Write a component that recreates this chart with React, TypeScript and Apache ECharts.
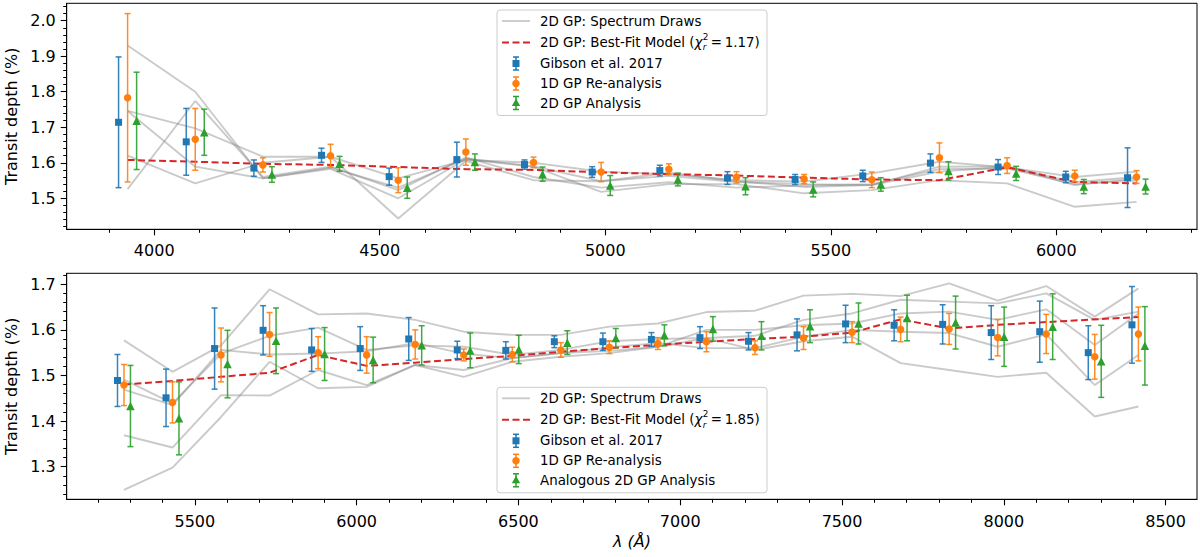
import React, { useEffect, useRef } from "react";
import * as echarts from "echarts";

// ---------------- data: top panel ----------------
const TOP_X = [3941, 4091, 4241, 4391, 4541, 4691, 4841, 4991, 5141, 5291, 5441, 5591, 5741, 5891, 6041, 6178];
const TOP_GIBSON = [1.714, 1.659, 1.585, 1.621, 1.561, 1.609, 1.595, 1.574, 1.578, 1.557, 1.553, 1.563, 1.599, 1.588, 1.560, 1.558];
const TOP_GIBSON_ERR = [0.184, 0.094, 0.023, 0.020, 0.024, 0.049, 0.013, 0.015, 0.015, 0.018, 0.014, 0.016, 0.026, 0.021, 0.016, 0.084];
const TOP_1D = [1.783, 1.666, 1.594, 1.620, 1.551, 1.630, 1.601, 1.574, 1.582, 1.559, 1.554, 1.552, 1.614, 1.592, 1.563, 1.560];
const TOP_1D_ERR = [0.237, 0.087, 0.020, 0.032, 0.035, 0.037, 0.015, 0.027, 0.015, 0.016, 0.013, 0.022, 0.042, 0.022, 0.016, 0.018];
const TOP_2D = [1.718, 1.686, 1.567, 1.597, 1.530, 1.602, 1.568, 1.536, 1.553, 1.534, 1.525, 1.539, 1.577, 1.570, 1.533, 1.533];
const TOP_2D_ERR = [0.137, 0.065, 0.022, 0.021, 0.030, 0.023, 0.020, 0.028, 0.018, 0.024, 0.021, 0.019, 0.026, 0.020, 0.020, 0.021];
const TOP_MODEL = [1.608, 1.603, 1.597, 1.594, 1.588, 1.582, 1.580, 1.573, 1.568, 1.564, 1.558, 1.553, 1.551, 1.587, 1.546, 1.542];
const TOP_DRAW_1 = [1.930, 1.800, 1.556, 1.586, 1.530, 1.612, 1.590, 1.548, 1.572, 1.548, 1.532, 1.537, 1.575, 1.589, 1.545, 1.560];
const TOP_DRAW_2 = [1.746, 1.697, 1.617, 1.617, 1.556, 1.608, 1.600, 1.575, 1.568, 1.551, 1.547, 1.570, 1.603, 1.587, 1.560, 1.575];
const TOP_DRAW_3 = [1.746, 1.589, 1.556, 1.583, 1.500, 1.610, 1.589, 1.518, 1.540, 1.540, 1.514, 1.523, 1.551, 1.542, 1.476, 1.490];
const TOP_DRAW_4 = [1.620, 1.542, 1.600, 1.617, 1.443, 1.605, 1.551, 1.548, 1.563, 1.546, 1.540, 1.537, 1.589, 1.590, 1.537, 1.556];
const TOP_DRAW_5 = [1.526, 1.774, 1.560, 1.589, 1.523, 1.615, 1.560, 1.530, 1.545, 1.530, 1.536, 1.540, 1.582, 1.584, 1.540, 1.550];

// ---------------- data: bottom panel ----------------
const BOT_X = [5281, 5431, 5581, 5731, 5881, 6031, 6181, 6331, 6481, 6631, 6781, 6931, 7081, 7231, 7381, 7531, 7681, 7831, 7981, 8131, 8281, 8416];
const BOT_GIBSON = [1.489, 1.451, 1.559, 1.599, 1.556, 1.559, 1.580, 1.556, 1.555, 1.574, 1.574, 1.579, 1.583, 1.575, 1.589, 1.613, 1.610, 1.612, 1.594, 1.596, 1.550, 1.611];
const BOT_GIBSON_ERR = [0.057, 0.063, 0.089, 0.054, 0.047, 0.048, 0.047, 0.019, 0.019, 0.013, 0.019, 0.015, 0.024, 0.019, 0.035, 0.041, 0.034, 0.043, 0.059, 0.067, 0.059, 0.084];
const BOT_1D = [1.479, 1.441, 1.545, 1.590, 1.550, 1.545, 1.568, 1.545, 1.546, 1.556, 1.562, 1.570, 1.574, 1.561, 1.582, 1.595, 1.601, 1.602, 1.583, 1.591, 1.541, 1.591];
const BOT_1D_ERR = [0.045, 0.045, 0.059, 0.048, 0.035, 0.040, 0.032, 0.013, 0.016, 0.016, 0.014, 0.013, 0.022, 0.015, 0.025, 0.023, 0.027, 0.034, 0.040, 0.043, 0.049, 0.059];
const BOT_2D = [1.433, 1.406, 1.525, 1.576, 1.547, 1.534, 1.566, 1.555, 1.557, 1.572, 1.582, 1.588, 1.602, 1.587, 1.608, 1.614, 1.626, 1.616, 1.585, 1.607, 1.531, 1.565];
const BOT_2D_ERR = [0.089, 0.080, 0.074, 0.072, 0.058, 0.050, 0.043, 0.038, 0.031, 0.026, 0.021, 0.023, 0.027, 0.031, 0.036, 0.045, 0.050, 0.058, 0.065, 0.072, 0.079, 0.086];
const BOT_MODEL = [1.480, 1.488, 1.497, 1.506, 1.545, 1.521, 1.528, 1.536, 1.543, 1.552, 1.560, 1.567, 1.574, 1.580, 1.585, 1.594, 1.623, 1.603, 1.611, 1.617, 1.623, 1.628];
const BOT_DRAW_1 = [1.577, 1.508, 1.566, 1.689, 1.634, 1.636, 1.622, 1.596, 1.589, 1.589, 1.607, 1.614, 1.639, 1.642, 1.675, 1.679, 1.674, 1.702, 1.664, 1.696, 1.629, 1.691];
const BOT_DRAW_2 = [1.491, 1.439, 1.548, 1.587, 1.605, 1.556, 1.566, 1.563, 1.545, 1.556, 1.575, 1.580, 1.582, 1.587, 1.622, 1.636, 1.666, 1.662, 1.658, 1.680, 1.622, 1.640];
const BOT_DRAW_3 = [1.469, 1.435, 1.556, 1.546, 1.548, 1.553, 1.571, 1.548, 1.538, 1.549, 1.554, 1.563, 1.600, 1.600, 1.610, 1.614, 1.636, 1.640, 1.622, 1.645, 1.567, 1.636];
const BOT_DRAW_4 = [1.369, 1.342, 1.457, 1.456, 1.512, 1.479, 1.523, 1.512, 1.538, 1.549, 1.562, 1.571, 1.560, 1.560, 1.585, 1.600, 1.596, 1.593, 1.563, 1.590, 1.479, 1.545];
const BOT_DRAW_5 = [1.249, 1.298, 1.409, 1.530, 1.472, 1.475, 1.523, 1.497, 1.530, 1.541, 1.549, 1.563, 1.582, 1.556, 1.575, 1.585, 1.527, 1.512, 1.497, 1.506, 1.410, 1.432];

// wavelength offsets of the three analyses around each bin centre (Å)
const GIBSON_OFFSET = -20;
const GP1D_OFFSET = 0;
const GP2D_OFFSET = 20;

// ---------------- axes ----------------
const TOP_X_RANGE = [3806, 6312];
const TOP_Y_RANGE = [1.4127, 2.049];
const BOT_X_RANGE = [5104, 8597];
const BOT_Y_RANGE = [1.2285, 1.724];
const TOP_X_MAJOR = [4000, 4500, 5000, 5500, 6000];
const BOT_X_MAJOR = [5500, 6000, 6500, 7000, 7500, 8000, 8500];
const TOP_Y_MAJOR = [1.5, 1.6, 1.7, 1.8, 1.9, 2.0];
const BOT_Y_MAJOR = [1.3, 1.4, 1.5, 1.6, 1.7];

const TOP_LEGEND = ["2D GP: Spectrum Draws", "2D GP: Best-Fit Model", "Gibson et al. 2017", "1D GP Re-analysis", "2D GP Analysis"];
const BOT_LEGEND = ["2D GP: Spectrum Draws", "2D GP: Best-Fit Model", "Gibson et al. 2017", "1D GP Re-analysis", "Analogous 2D GP Analysis"];
const TOP_CHI = "1.17";
const BOT_CHI = "1.85";

const BLUE = "#1f77b4";
const ORANGE = "#ff7f0e";
const GREEN = "#2ca02c";
const RED = "#d62728";
const GRAY = "rgba(128,128,128,0.42)";
const FONT = "DejaVu Sans";
const LEG_FS = 13.4;
const SCRIPT_FS = 8.8;

function range(a: number, b: number, step: number, dec: number) {
  const out: number[] = [];
  for (let v = a; v <= b + step / 10; v += step) out.push(+v.toFixed(dec));
  return out;
}

const TOP_X_MINOR = range(3900, 6300, 100, 0);
const BOT_X_MINOR = range(5200, 8500, 100, 0);
const TOP_Y_MINOR = range(1.42, 2.04, 0.02, 2);
const BOT_Y_MINOR = range(1.24, 1.72, 0.02, 2);

function measure(text: string, size: number, italic = false) {
  const c = document.createElement("canvas").getContext("2d")!;
  c.font = `${italic ? "italic " : ""}${size}px "${FONT}"`;
  return c.measureText(text).width;
}

export default function App() {
  const ref = useRef<HTMLDivElement>(null);

  useEffect(() => {
    if (!ref.current) return;
    const chart = echarts.init(ref.current, undefined, { renderer: "svg" });

    const xAxisPair = (gridIndex: number, rng: number[], major: number[], minor: number[], labelMargin: number) => [
      {
        type: "value",
        gridIndex,
        position: "bottom",
        min: rng[0],
        max: rng[1],
        axisLine: { show: true, onZero: false, lineStyle: { color: "#000", width: 1 } },
        axisTick: { show: true, length: 6, lineStyle: { color: "#000", width: 1.1 }, customValues: major },
        axisLabel: {
          show: true,
          customValues: major,
          margin: labelMargin,
          fontSize: 16,
          fontFamily: FONT,
          color: "#000",
          formatter: (v: number) => String(v),
        },
        splitLine: { show: false },
      },
      {
        type: "value",
        gridIndex,
        position: "bottom",
        offset: 0,
        min: rng[0],
        max: rng[1],
        axisLine: { show: false, onZero: false },
        axisTick: { show: true, length: 3.5, lineStyle: { color: "#000", width: 1 }, customValues: minor },
        axisLabel: { show: false },
        splitLine: { show: false },
      },
    ];
    const yAxisPair = (gridIndex: number, rng: number[], major: number[], minor: number[]) => [
      {
        type: "value",
        gridIndex,
        position: "left",
        min: rng[0],
        max: rng[1],
        axisLine: { show: true, onZero: false, lineStyle: { color: "#000", width: 1 } },
        axisTick: { show: true, length: 6, lineStyle: { color: "#000", width: 1.1 }, customValues: major },
        axisLabel: {
          show: true,
          customValues: major,
          margin: 11,
          fontSize: 16,
          fontFamily: FONT,
          color: "#000",
          formatter: (v: number) => v.toFixed(1),
        },
        splitLine: { show: false },
      },
      {
        type: "value",
        gridIndex,
        position: "left",
        offset: 0,
        min: rng[0],
        max: rng[1],
        axisLine: { show: false, onZero: false },
        axisTick: { show: true, length: 3.5, lineStyle: { color: "#000", width: 1 }, customValues: minor },
        axisLabel: { show: false },
        splitLine: { show: false },
      },
    ];

    const drawSeries = (xs: number[], ys: number[], xi: number, yi: number) => ({
      type: "line",
      xAxisIndex: xi,
      yAxisIndex: yi,
      data: xs.map((x, i) => [x, ys[i]]),
      symbol: "none",
      silent: true,
      z: 1,
      lineStyle: { color: GRAY, width: 1.9 },
    });
    const modelSeries = (xs: number[], ys: number[], xi: number, yi: number) => ({
      type: "line",
      xAxisIndex: xi,
      yAxisIndex: yi,
      data: xs.map((x, i) => [x, ys[i]]),
      symbol: "none",
      silent: true,
      z: 3,
      lineStyle: { color: RED, width: 2, type: [7, 3.5] },
    });
    const errSeries = (xs: number[], off: number, ys: number[], es: number[], color: string, xi: number, yi: number) => ({
      type: "custom",
      xAxisIndex: xi,
      yAxisIndex: yi,
      silent: true,
      z: 4,
      encode: { x: 0, y: 1 },
      data: xs.map((x, i) => [x + off, ys[i], es[i]]),
      renderItem: (_p: any, api: any) => {
        const x = api.value(0);
        const y = api.value(1);
        const e = api.value(2);
        const t = api.coord([x, y + e]);
        const b = api.coord([x, y - e]);
        const cx = t[0];
        const st = { stroke: color, lineWidth: 1.5, opacity: 0.9 };
        return {
          type: "group",
          children: [
            { type: "line", shape: { x1: cx, y1: t[1], x2: cx, y2: b[1] }, style: st },
            { type: "line", shape: { x1: cx - 3, y1: t[1], x2: cx + 3, y2: t[1] }, style: st },
            { type: "line", shape: { x1: cx - 3, y1: b[1], x2: cx + 3, y2: b[1] }, style: st },
          ],
        };
      },
    });
    const markSeries = (xs: number[], off: number, ys: number[], color: string, symbol: string, size: number, xi: number, yi: number) => ({
      type: "scatter",
      xAxisIndex: xi,
      yAxisIndex: yi,
      silent: true,
      z: 5,
      symbol,
      symbolSize: size,
      itemStyle: { color, opacity: 1 },
      data: xs.map((x, i) => [x + off, ys[i]]),
    });

    const panelSeries = (
      xs: number[],
      draws: number[][],
      model: number[],
      g: number[], ge: number[], d1: number[], d1e: number[], d2: number[], d2e: number[],
      xi: number, yi: number
    ) => [
      ...draws.map((d) => drawSeries(xs, d, xi, yi)),
      modelSeries(xs, model, xi, yi),
      errSeries(xs, GIBSON_OFFSET, g, ge, BLUE, xi, yi),
      errSeries(xs, GP1D_OFFSET, d1, d1e, ORANGE, xi, yi),
      errSeries(xs, GP2D_OFFSET, d2, d2e, GREEN, xi, yi),
      markSeries(xs, GIBSON_OFFSET, g, BLUE, "rect", 7, xi, yi),
      markSeries(xs, GP1D_OFFSET, d1, ORANGE, "circle", 7.5, xi, yi),
      markSeries(xs, GP2D_OFFSET, d2, GREEN, "triangle", 8.5, xi, yi),
    ];

    // ---------- legends (graphic) ----------
    const LX = 497;
    const LW = 270;
    const LH = 105.5;
    const ROWS = [11, 32.5, 53.5, 73.5, 93];
    const TX = 540;
    const ix = 516;
    const textStyle = (text: string, x: number, y: number, size = LEG_FS, italic = false) => ({
      text,
      x,
      y,
      fill: "#000",
      fontSize: size,
      fontFamily: FONT,
      fontStyle: italic ? "italic" : "normal",
      align: "left",
      verticalAlign: "middle",
      textAlign: "left",
      textVerticalAlign: "middle",
    });
    const errIcon = (y: number, color: string, marker: any) => [
      { type: "line", shape: { x1: ix, y1: y - 6.5, x2: ix, y2: y + 6.5 }, style: { stroke: color, lineWidth: 1.5 } },
      { type: "line", shape: { x1: ix - 3, y1: y - 6.5, x2: ix + 3, y2: y - 6.5 }, style: { stroke: color, lineWidth: 1.5 } },
      { type: "line", shape: { x1: ix - 3, y1: y + 6.5, x2: ix + 3, y2: y + 6.5 }, style: { stroke: color, lineWidth: 1.5 } },
      marker,
    ];
    const legend = (top: number, labels: string[], chi: string) => {
      const y = ROWS.map((r) => top + r);
      const pre = labels[1] + " (";
      const wPre = measure(pre, LEG_FS);
      const wChi = measure("χ", LEG_FS, true);
      const xChi = TX + wPre;
      const xSup = xChi + wChi + 0.3;
      const xEq = xSup + measure("2", SCRIPT_FS) + 2.5;
      return [
        { type: "rect", z: 10, shape: { x: LX, y: top, width: LW, height: LH, r: 3 }, style: { fill: "rgba(255,255,255,0.85)", stroke: "#cccccc", lineWidth: 1 } },
        { type: "line", z: 11, shape: { x1: 502, y1: y[0], x2: 530, y2: y[0] }, style: { stroke: GRAY, lineWidth: 1.9 } },
        { type: "text", z: 11, style: textStyle(labels[0], TX, y[0]) },
        { type: "line", z: 11, shape: { x1: 502, y1: y[1], x2: 530, y2: y[1] }, style: { stroke: RED, lineWidth: 2, lineDash: [7, 3.5] } },
        { type: "text", z: 11, style: textStyle(pre, TX, y[1]) },
        { type: "text", z: 11, style: textStyle("χ", xChi, y[1], LEG_FS, true) },
        { type: "text", z: 11, style: textStyle("2", xSup, y[1] - 5.8, SCRIPT_FS) },
        { type: "text", z: 11, style: textStyle("r", xSup, y[1] + 4.8, SCRIPT_FS, true) },
        { type: "text", z: 11, style: textStyle("=\u2009" + chi + ")", xEq, y[1]) },
        ...errIcon(y[2], BLUE, { type: "rect", shape: { x: ix - 3.5, y: y[2] - 3.5, width: 7, height: 7 }, style: { fill: BLUE } }).map((e: any) => ({ ...e, z: 11 })),
        { type: "text", z: 11, style: textStyle(labels[2], TX, y[2]) },
        ...errIcon(y[3], ORANGE, { type: "circle", shape: { cx: ix, cy: y[3], r: 3.75 }, style: { fill: ORANGE } }).map((e: any) => ({ ...e, z: 11 })),
        { type: "text", z: 11, style: textStyle(labels[3], TX, y[3]) },
        ...errIcon(y[4], GREEN, { type: "polygon", shape: { points: [[ix, y[4] - 4.5], [ix - 4.2, y[4] + 3], [ix + 4.2, y[4] + 3]] }, style: { fill: GREEN } }).map((e: any) => ({ ...e, z: 11 })),
        { type: "text", z: 11, style: textStyle(labels[4], TX, y[4]) },
      ];
    };

    const axisTitle = (text: string, x: number, y: number, rot: number, italic = false) => ({
      type: "text",
      x,
      y,
      rotation: rot,
      style: {
        text,
        x: 0,
        y: 0,
        fill: "#000",
        fontSize: 16,
        fontFamily: FONT,
        fontStyle: italic ? "italic" : "normal",
        align: "center",
        verticalAlign: "middle",
        textAlign: "center",
        textVerticalAlign: "middle",
      },
    });

    const option: any = {
      animation: false,
      backgroundColor: "#ffffff",
      grid: [
        { left: 66.7, top: 3.3, width: 1130.3, height: 226, show: true, borderColor: "#000", borderWidth: 1, backgroundColor: "transparent" },
        { left: 66.7, top: 273.3, width: 1130.3, height: 226, show: true, borderColor: "#000", borderWidth: 1, backgroundColor: "transparent" },
      ],
      xAxis: [
        ...xAxisPair(0, TOP_X_RANGE, TOP_X_MAJOR, TOP_X_MINOR, 13),
        ...xAxisPair(1, BOT_X_RANGE, BOT_X_MAJOR, BOT_X_MINOR, 14),
      ],
      yAxis: [
        ...yAxisPair(0, TOP_Y_RANGE, TOP_Y_MAJOR, TOP_Y_MINOR),
        ...yAxisPair(1, BOT_Y_RANGE, BOT_Y_MAJOR, BOT_Y_MINOR),
      ],
      series: [
        ...panelSeries(TOP_X, [TOP_DRAW_1, TOP_DRAW_2, TOP_DRAW_3, TOP_DRAW_4, TOP_DRAW_5], TOP_MODEL,
          TOP_GIBSON, TOP_GIBSON_ERR, TOP_1D, TOP_1D_ERR, TOP_2D, TOP_2D_ERR, 0, 0),
        ...panelSeries(BOT_X, [BOT_DRAW_1, BOT_DRAW_2, BOT_DRAW_3, BOT_DRAW_4, BOT_DRAW_5], BOT_MODEL,
          BOT_GIBSON, BOT_GIBSON_ERR, BOT_1D, BOT_1D_ERR, BOT_2D, BOT_2D_ERR, 2, 2),
      ],
      graphic: [
        axisTitle("Transit depth (%)", 11, 116.3, Math.PI / 2),
        axisTitle("Transit depth (%)", 11, 386.3, Math.PI / 2),
        axisTitle("λ (Å)", 632, 541.5, 0, true),
        ...legend(10, TOP_LEGEND, TOP_CHI),
        ...legend(387.3, BOT_LEGEND, BOT_CHI),
      ],
    };

    chart.setOption(option);
    return () => chart.dispose();
  }, []);

  return (
    <div
      ref={ref}
      style={{ position: "absolute", left: 0, top: 0, width: 1200, height: 557, background: "#fff" }}
    />
  );
}
